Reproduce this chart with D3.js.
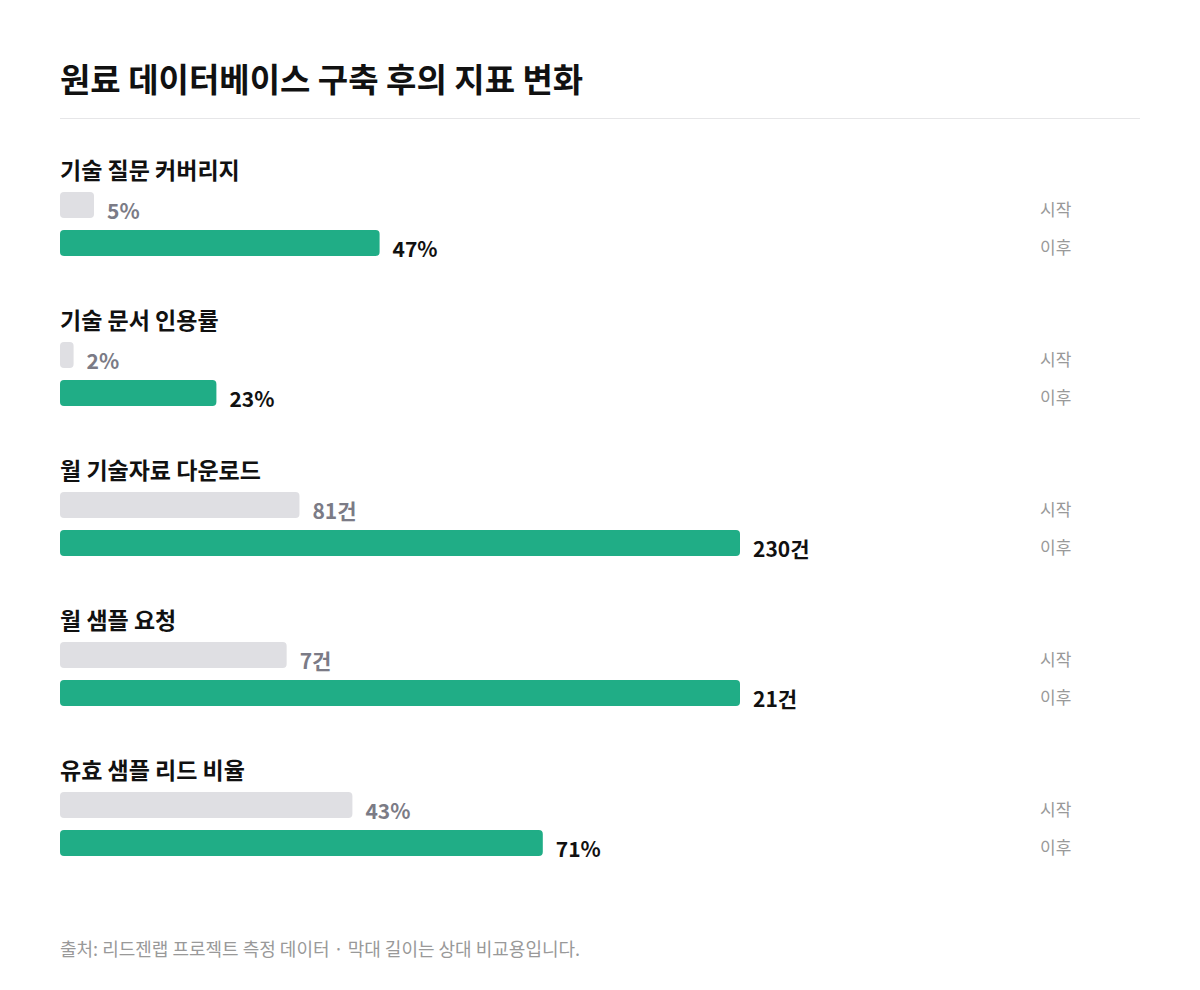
<!DOCTYPE html>
<html>
<head>
<meta charset="utf-8">
<script src="https://cdn.jsdelivr.net/npm/d3@7"></script>
<style>
  body { margin: 0; background: #fff; }
  svg { font-family: "Noto Sans CJK KR", "Noto Sans", sans-serif; }
</style>
</head>
<body>
<svg id="chart" width="1200" height="990"></svg>
<script>
// data
const metrics = ['기술 질문 커버리지', '기술 문서 인용률', '월 기술자료 다운로드', '월 샘플 요청', '유효 샘플 리드 비율'];
const startValues = [5, 2, 81, 7, 43];
const afterValues = [47, 23, 230, 21, 71];
const units = ['%', '%', '건', '건', '%'];
const scaleMax = [100, 100, 230, 21, 100];

const svg = d3.select('#chart');
const left = 60, barMax = 680;

svg.append('text')
    .attr('x', left).attr('y', 92)
    .attr('font-size', 33).attr('font-weight', 700).attr('fill', '#111')
    .text('원료 데이터베이스 구축 후의 지표 변화');

svg.append('line')
    .attr('x1', left).attr('x2', 1140).attr('y1', 118.5).attr('y2', 118.5)
    .attr('stroke', '#e6e6e8');

const y = d3.scaleBand().domain(metrics).range([150, 900]);

const g = svg.selectAll('.metric')
    .data(metrics)
    .enter().append('g')
    .attr('class', 'metric')
    .attr('transform', d => 'translate(0,' + y(d) + ')');

g.append('text')
    .attr('x', left).attr('y', 29)
    .attr('font-size', 23).attr('font-weight', 700).attr('fill', '#111')
    .text(d => d);

g.each(function(d, i) {
    const sel = d3.select(this);
    const x = d3.scaleLinear().domain([0, scaleMax[i]]).range([0, barMax]);
    const rows = [
        {v: startValues[i], top: 42, fill: '#dfdfe3', text: '#7b7b86', tag: '시작'},
        {v: afterValues[i], top: 80, fill: '#20ad86', text: '#111', tag: '이후'}
    ];
    rows.forEach(r => {
        sel.append('rect')
            .attr('x', left).attr('y', r.top)
            .attr('width', x(r.v)).attr('height', 26)
            .attr('rx', 4).attr('fill', r.fill);
        sel.append('text')
            .attr('x', left + x(r.v) + 13).attr('y', r.top + 27)
            .attr('font-size', 21).attr('font-weight', 700).attr('fill', r.text)
            .text(r.v + units[i]);
        sel.append('text')
            .attr('x', 1040).attr('y', r.top + 24)
            .attr('font-size', 17).attr('fill', '#999')
            .text(r.tag);
    });
});

svg.append('text')
    .attr('x', left).attr('y', 956)
    .attr('font-size', 18).attr('fill', '#999')
    .text('출처: 리드젠랩 프로젝트 측정 데이터 · 막대 길이는 상대 비교용입니다.');
</script>
</body>
</html>
